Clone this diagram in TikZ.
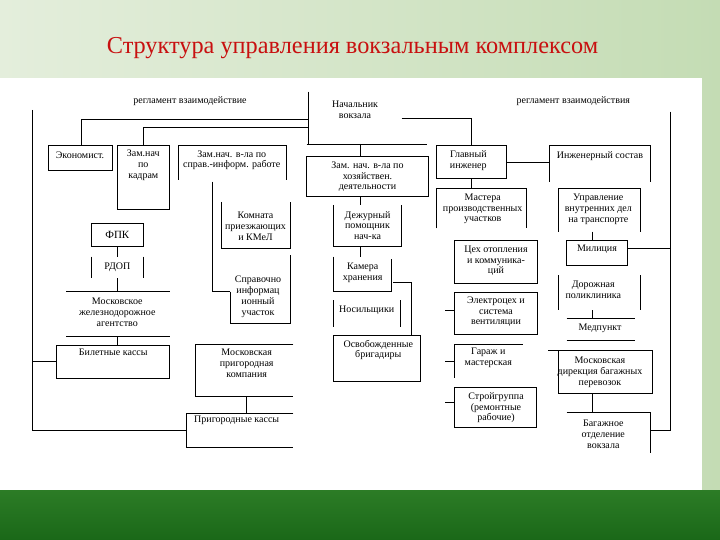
\documentclass[tikz,border=0pt]{standalone}
\usepackage{fontspec}
\setmainfont{Liberation Serif}
\definecolor{bgL}{RGB}{228,238,220}
\definecolor{bgR}{RGB}{196,220,180}
\definecolor{gTop}{RGB}{44,124,38}
\definecolor{gBot}{RGB}{26,104,24}
\definecolor{titred}{RGB}{200,16,16}
\begin{document}
\begin{tikzpicture}[x=1pt,y=-1pt,
  ln/.style={line width=0.8pt, black},
  lbl/.style={font=\fontsize{10}{10.8}\selectfont, align=center, inner sep=0pt},
  ttl/.style={font=\fontsize{24.3}{27}\selectfont, text=titred, inner sep=0pt}]
\useasboundingbox (0,0) rectangle (720,540);
\shade[left color=bgL, right color=bgR] (0,0) rectangle (720,490);
\fill[white] (0,78) rectangle (702,490);
\shade[top color=gTop, bottom color=gBot] (0,490) rectangle (720,540);
\node[ttl] (title) at (352.5,48) {Структура управления вокзальным комплексом};

% ---------- texts ----------
\node[lbl] (reg1) at (190,100.7) {регламент взаимодействие};
\node[lbl] (reg2) at (573.3,100.7) {регламент взаимодействия};
\node[lbl] (nach) at (355,110) {Начальник\\вокзала};
\node[lbl] (econ) at (80,155.7) {Экономист.};
\node[lbl] (kadr) at (143.3,165) {Зам.нач\\по\\кадрам};
\node[lbl] (sprav) at (231.7,160.3) {Зам.нач. в-ла по\\справ.-информ. работе};
\node[lbl] (hoz) at (367.5,176.7) {Зам. нач. в-ла по\\хозяйствен.\\деятельности};
\node[lbl] (dezh) at (367.5,225.5) {Дежурный\\помощник\\нач-ка};
\node[lbl] (komn) at (255.5,226) {Комната\\приезжающих\\и КМеЛ};
\node[lbl] (sprinf) at (258,296.7) {Справочно\\информац\\ионный\\участок};
\node[lbl, font=\fontsize{11}{12}\selectfont] (fpk) at (117.3,235) {ФПК};
\node[lbl] (rdop) at (117.3,267.3) {РДОП};
\node[lbl] (mza) at (117.3,312.5) {Московское\\железнодорожное\\агентство};
\node[lbl] (bilet) at (113.3,352.7) {Билетные кассы};
\node[lbl] (mpk) at (246.7,363) {Московская\\пригородная\\компания};
\node[lbl] (prig) at (236.7,420.7) {Пригородные кассы};
\node[lbl] (kamera) at (362.7,272.5) {Камера\\хранения};
\node[lbl] (nos) at (366.7,310) {Носильщики};
\node[lbl] (osv) at (378.3,350) {Освобожденные\\бригадиры};
\node[lbl] (glav) at (468.3,161) {Главный\\инженер};
\node[lbl] (inzh) at (600,155.7) {Инженерный состав};
\node[lbl] (mast) at (482.7,209) {Мастера\\производственных\\участков};
\node[lbl] (uvd) at (598.3,209) {Управление\\внутренних дел\\на транспорте};
\node[lbl] (mil) at (597,249.3) {Милиция};
\node[lbl] (ceh) at (496,260.7) {Цех отопления\\и коммуника-\\ций};
\node[lbl] (el) at (496,311.7) {Электроцех и\\система\\вентиляции};
\node[lbl] (gar) at (488.3,358) {Гараж и\\мастерская};
\node[lbl] (stroy) at (496,407.7) {Стройгруппа\\(ремонтные\\рабочие)};
\node[lbl] (dor) at (593.3,290) {Дорожная\\поликлиника};
\node[lbl] (med) at (600,328.5) {Медпункт};
\node[lbl] (mdbp) at (600,372.5) {Московская\\дирекция багажных\\перевозок};
\node[lbl] (bag) at (603.3,434.5) {Багажное\\отделение\\вокзала};

% ---------- left part ----------
\draw[ln] (32.7,110) -- (32.7,430) -- (186.7,430);
\draw[ln] (32.7,361.7) -- (56.7,361.7);
\draw[ln] (308.7,119.3) -- (81.7,119.3) -- (81.7,145);
\draw[ln] (308.7,127.7) -- (143.3,127.7) -- (143.3,145);
\draw[ln] (48.3,145) rectangle (112.7,170);
\draw[ln] (117.3,145) rectangle (169.3,209);
\draw[ln] (178.3,180) -- (178.3,145) -- (286.7,145) -- (286.7,180);
\draw[ln] (212.7,181.7) -- (212.7,291.7) -- (230,291.7);
\draw[ln] (221,202) -- (221,248.3) -- (290,248.3) -- (290,202);
\draw[ln] (230,291.7) -- (230,323.3) -- (290,323.3) -- (290,255);
\draw[ln] (91,223.3) rectangle (143.3,246.7);
\draw[ln] (117.3,246.7) -- (117.3,256.7);
\draw[ln] (91,256.7) -- (91,278.3);
\draw[ln] (143.3,256.7) -- (143.3,278.3);
\draw[ln] (117.3,278.3) -- (117.3,291.7);
\draw[ln] (66,291.7) -- (170,291.7);
\draw[ln] (66,336.7) -- (170,336.7);
\draw[ln] (117.3,336.7) -- (117.3,345);
\draw[ln] (56.7,345) rectangle (169.3,378.3);
\draw[ln] (293.3,344) -- (195,344) -- (195,396) -- (293.3,396);
\draw[ln] (246.7,396) -- (246.7,413.3);
\draw[ln] (293.3,413.3) -- (186.7,413.3) -- (186.7,447.3) -- (293.3,447.3);

% ---------- centre ----------
\draw[ln] (308.7,91.7) -- (308.7,144);
\draw[ln] (306.7,144) -- (426.7,144);
\draw[ln] (401.7,118.3) -- (471.7,118.3) -- (471.7,145);
\draw[ln] (360,144) -- (360,156.7);
\draw[ln] (306.7,156.7) rectangle (428.3,196.7);
\draw[ln] (360,196.7) -- (360,205);
\draw[ln] (333.3,205) -- (333.3,246.7) -- (401.7,246.7) -- (401.7,205);
\draw[ln] (360,246.7) -- (360,256.7);
\draw[ln] (333.3,256.7) -- (333.3,291.7) -- (391.7,291.7) -- (391.7,259);
\draw[ln] (393,282.7) -- (411.7,282.7) -- (411.7,335);
\draw[ln] (333.3,300) -- (333.3,326.7);
\draw[ln] (400,300) -- (400,326.7);
\draw[ln] (333.3,335) rectangle (420.7,381.7);

% ---------- right ----------
\draw[ln] (436.7,145) rectangle (506.7,178.3);
\draw[ln] (506.7,162.3) -- (549.3,162.3);
\draw[ln] (549.3,181.7) -- (549.3,145) -- (650,145) -- (650,181.7);
\draw[ln] (471.7,178.3) -- (471.7,188.3);
\draw[ln] (436.7,228.3) -- (436.7,188.3) -- (526.7,188.3) -- (526.7,228.3);
\draw[ln] (558.3,231.7) -- (558.3,188.3) -- (640,188.3) -- (640,231.7);
\draw[ln] (592.7,231.7) -- (592.7,240);
\draw[ln] (566.7,240) rectangle (627.3,265);
\draw[ln] (627.3,248.3) -- (670,248.3);
\draw[ln] (670,111.7) -- (670,430) -- (650,430);
\draw[ln] (558.3,275) -- (558.3,310);
\draw[ln] (640,275) -- (640,310);
\draw[ln] (592.7,310) -- (592.7,318.3);
\draw[ln] (566.7,318.3) -- (635,318.3);
\draw[ln] (566.7,340) -- (635,340);
\draw[ln] (548.3,350) -- (652.3,350) -- (652.3,393.3) -- (558.3,393.3) -- (558.3,350);
\draw[ln] (592.7,393.3) -- (592.7,412.7);
\draw[ln] (566.7,412.7) -- (650,412.7) -- (650,453.3);

\draw[ln] (454,240) rectangle (537.3,283.3);
\draw[ln] (454,292.7) rectangle (537.3,334);
\draw[ln] (445,310) -- (454,310);
\draw[ln] (522.7,344.3) -- (454,344.3) -- (454,378.3);
\draw[ln] (445,361.7) -- (454,361.7);
\draw[ln] (454,387.3) rectangle (536.7,427.3);
\draw[ln] (445,402.7) -- (454,402.7);
\end{tikzpicture}
\end{document}
